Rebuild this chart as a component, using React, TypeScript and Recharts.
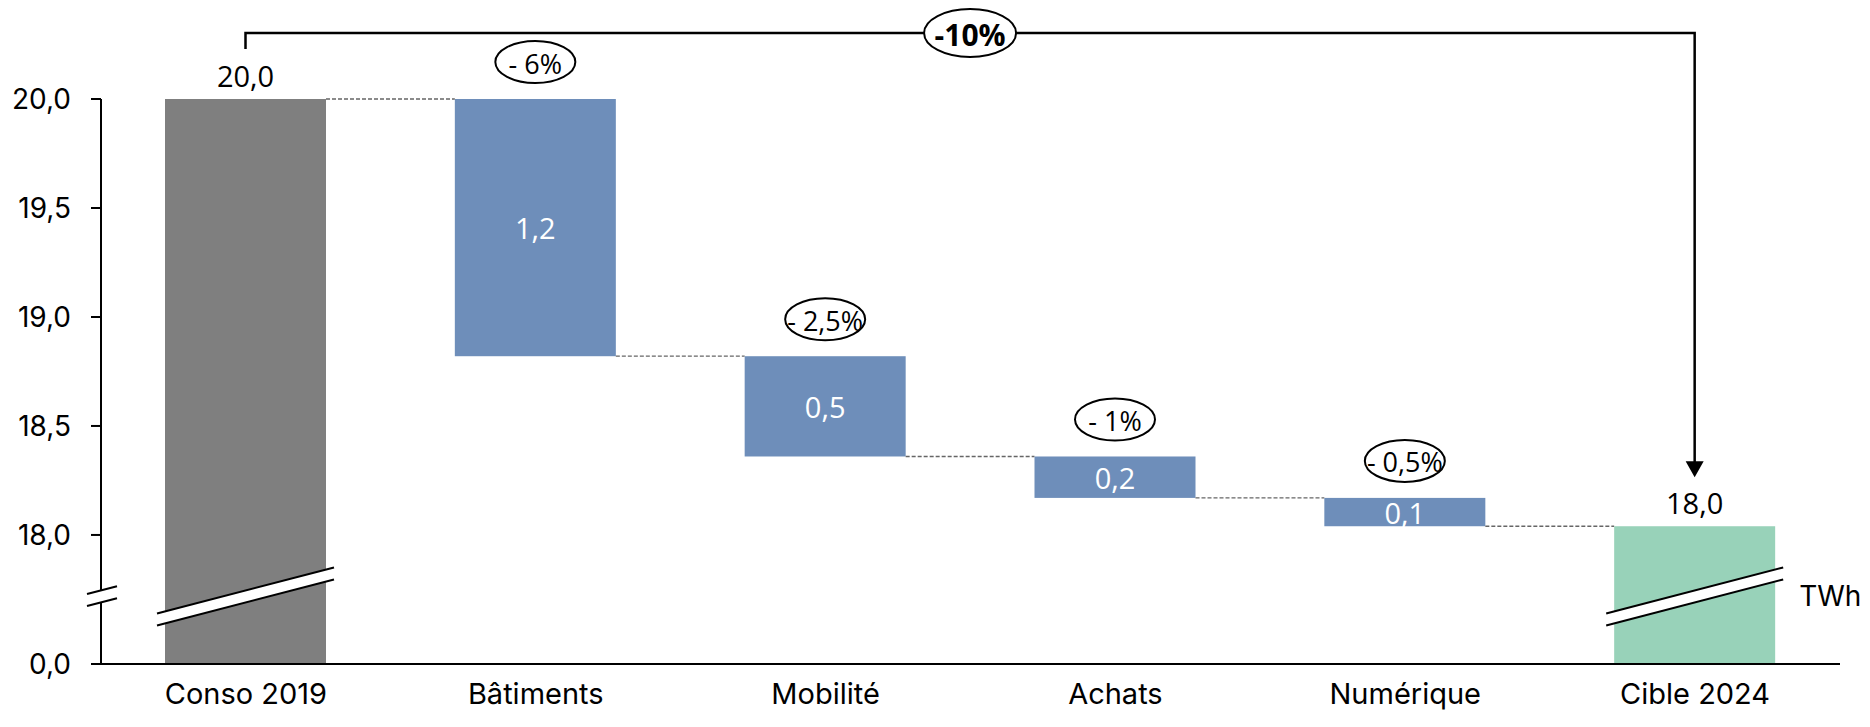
import { BarChart, Bar, XAxis, YAxis } from "recharts";

const categories = ["Conso 2019", "Bâtiments", "Mobilité", "Achats", "Numérique", "Cible 2024"];
const startValue = 20.0;
const reductions = [1.18, 0.46, 0.19, 0.13];
const reductionLabels = ["- 6%", "- 2,5%", "- 1%", "- 0,5%"];
const totalLabel = "-10%";
const yTickValues = [0, 18, 18.5, 19, 19.5, 20];
const unitLabel = "TWh";

// broken axis: 0..18 is squeezed into a short segment at the bottom
const BREAK_AT = 18;
const SQUEEZE = 0.592;
const BREAK_MARK = 0.31;
const toAxis = (v: number) => (v >= BREAK_AT ? SQUEEZE + (v - BREAK_AT) : (v / BREAK_AT) * SQUEEZE);

const GRAY = "#7f7f7f";
const BLUE = "#6e8eba";
const GREEN = "#98d2b9";
const LABEL_FONT = "'Open Sans', sans-serif";

const W = 1870;
const H = 727;
const margin = { top: 99, right: 30, bottom: 18, left: 11 };
const Y_AXIS_W = 90;
const X_AXIS_H = 45;
const plotLeft = margin.left + Y_AXIS_W;
const plotRight = W - margin.right;
const plotBottom = H - margin.bottom - X_AXIS_H;
const band = (plotRight - plotLeft) / categories.length;

let level = startValue;
const rows = categories
  .map((name, i) => {
    if (i === 0) return { name, kind: "start", low: 0, high: startValue, delta: 0, pct: "" };
    if (i === categories.length - 1) return { name, kind: "end", low: 0, high: level, delta: 0, pct: "" };
    const high = level;
    level = +(level - reductions[i - 1]).toFixed(2);
    return { name, kind: "step", low: level, high, delta: reductions[i - 1], pct: reductionLabels[i - 1] };
  })
  .map((r) => ({ ...r, base: toAxis(r.low), size: toAxis(r.high) - toAxis(r.low) }));

const fmt = (v: number) => v.toFixed(1).replace(".", ",");

const yTicks = [0, BREAK_MARK, ...yTickValues.slice(1).map(toAxis)];

function BreakMark({ cx, cy, left, right }: { cx: number; cy: number; left: number; right: number }) {
  const slope = 0.26;
  const gap = 6;
  const x1 = cx - left;
  const x2 = cx + right;
  const yAt = (px: number, off: number) => cy - slope * (px - cx) + off;
  return (
    <g>
      <polygon
        points={`${x1},${yAt(x1, -gap)} ${x2},${yAt(x2, -gap)} ${x2},${yAt(x2, gap)} ${x1},${yAt(x1, gap)}`}
        fill="#fff"
      />
      <line x1={x1} y1={yAt(x1, -gap)} x2={x2} y2={yAt(x2, -gap)} stroke="#000" strokeWidth={2} />
      <line x1={x1} y1={yAt(x1, gap)} x2={x2} y2={yAt(x2, gap)} stroke="#000" strokeWidth={2} />
    </g>
  );
}

function YTick(props: any) {
  const { y, payload } = props;
  const ax = plotLeft;
  if (Math.abs(payload.value - BREAK_MARK) < 1e-6) {
    return <BreakMark cx={ax} cy={y} left={14} right={16} />;
  }
  const idx = yTicks.findIndex((t) => Math.abs(t - payload.value) < 1e-6);
  const label = fmt(yTickValues[idx === 0 ? 0 : idx - 1]);
  return (
    <g>
      <line x1={ax - 10} y1={y} x2={ax} y2={y} stroke="#000" strokeWidth={2} />
      <text x={ax - 30} y={y} textAnchor="end" dominantBaseline="central" fontSize={28} fill="#000">
        {label}
      </text>
    </g>
  );
}

function XTick(props: any) {
  const { x, payload } = props;
  return (
    <text x={x} y={plotBottom + 40} textAnchor="middle" fontSize={29} fill="#000">
      {payload.value}
    </text>
  );
}

function WaterfallBar(props: any) {
  const { x, y, width, height, payload, index } = props;
  const color = payload.kind === "start" ? GRAY : payload.kind === "end" ? GREEN : BLUE;
  const cx = x + width / 2;
  const ppu = height / payload.size;
  const zeroY = y + height + payload.base * ppu;
  const breakY = zeroY - BREAK_MARK * ppu;
  const endY = payload.kind === "start" ? y : y + height;
  const last = index === categories.length - 1;

  return (
    <g>
      <rect x={x} y={y} width={width} height={height} fill={color} />
      {!last && (
        <line x1={x + width} y1={endY} x2={x + band} y2={endY} stroke="#666" strokeWidth={1.3} strokeDasharray="4 2" />
      )}
      {payload.kind === "step" && (
        <g fontFamily={LABEL_FONT}>
          <text x={cx} y={y + height / 2} textAnchor="middle" dominantBaseline="central" fontSize={29} fill="#fff">
            {fmt(payload.delta)}
          </text>
          <ellipse cx={cx} cy={y - 37} rx={40} ry={21} fill="#fff" stroke="#000" strokeWidth={2} />
          <text x={cx} y={y - 36} textAnchor="middle" dominantBaseline="central" fontSize={27} fill="#000">
            {payload.pct}
          </text>
        </g>
      )}
      {payload.kind !== "step" && (
        <g>
          <text x={cx} y={y - 12} textAnchor="middle" fontSize={29} fill="#000" fontFamily={LABEL_FONT}>
            {fmt(payload.high)}
          </text>
          <BreakMark cx={cx} cy={breakY} left={width / 2 + 8} right={width / 2 + 8} />
        </g>
      )}
      {last && (
        <g>
          <text x={x + width + 24} y={breakY} dominantBaseline="central" fontSize={28} fill="#000">
            {unitLabel}
          </text>
          {(() => {
            const leftX = cx - (categories.length - 1) * band;
            const topY = margin.top - 66;
            const tipY = y - 49;
            const midX = (leftX + cx) / 2;
            return (
              <g>
                <polyline
                  points={`${leftX},${margin.top - 50} ${leftX},${topY} ${cx},${topY} ${cx},${tipY - 12}`}
                  fill="none"
                  stroke="#000"
                  strokeWidth={2.5}
                />
                <polygon points={`${cx},${tipY} ${cx - 9},${tipY - 16} ${cx + 9},${tipY - 16}`} fill="#000" />
                <ellipse cx={midX} cy={topY} rx={46} ry={24} fill="#fff" stroke="#000" strokeWidth={2} />
                <text
                  x={midX}
                  y={topY + 1}
                  textAnchor="middle"
                  dominantBaseline="central"
                  fontSize={30}
                  fontWeight="bold"
                  fill="#000"
                  fontFamily={LABEL_FONT}
                >
                  {totalLabel}
                </text>
              </g>
            );
          })()}
        </g>
      )}
    </g>
  );
}

export default function App() {
  return (
    <div style={{ position: "absolute", left: 0, top: 0, width: W, height: H, background: "#fff", fontFamily: "Inter, sans-serif" }}>
      <BarChart width={W} height={H} data={rows} margin={margin} barSize={161}>
        <XAxis
          dataKey="name"
          height={X_AXIS_H}
          axisLine={{ stroke: "#000", strokeWidth: 2 }}
          tickLine={false}
          tick={<XTick />}
          interval={0}
        />
        <YAxis
          width={Y_AXIS_W}
          type="number"
          domain={[0, toAxis(startValue)]}
          ticks={yTicks}
          interval={0}
          axisLine={{ stroke: "#000", strokeWidth: 2 }}
          tickLine={false}
          tick={<YTick />}
        />
        <Bar dataKey="base" stackId="w" fill="transparent" isAnimationActive={false} />
        <Bar dataKey="size" stackId="w" shape={<WaterfallBar />} isAnimationActive={false} />
      </BarChart>
    </div>
  );
}
